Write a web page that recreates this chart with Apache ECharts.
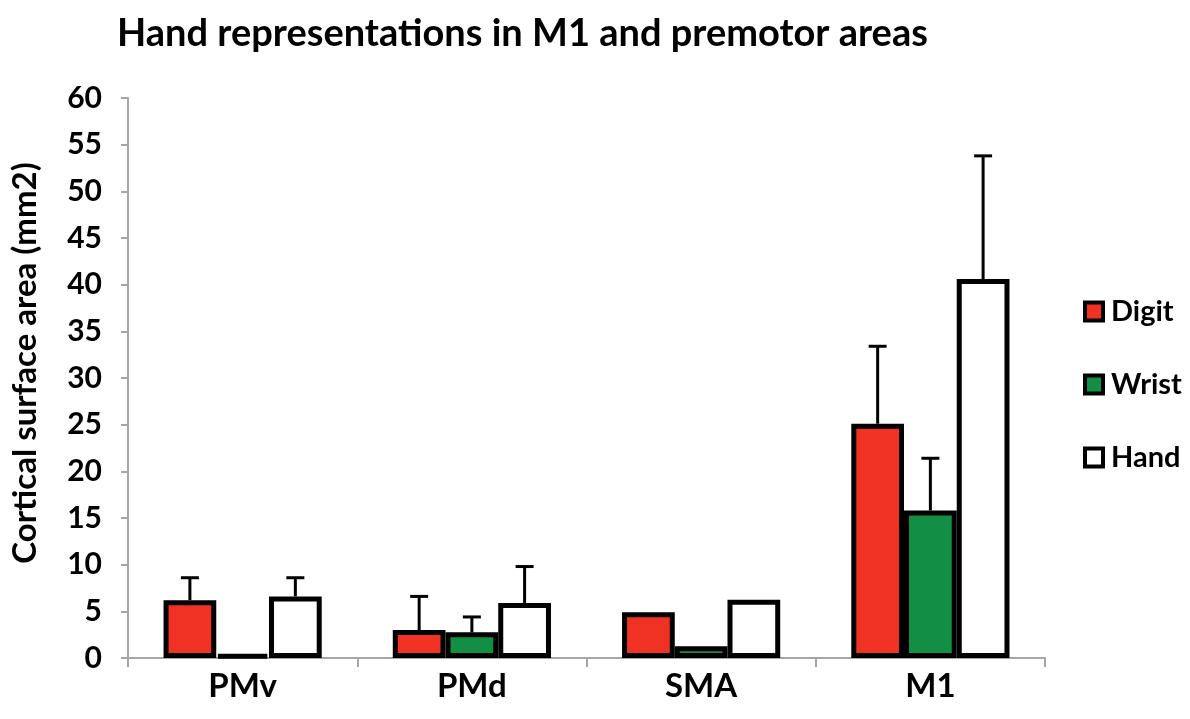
<!DOCTYPE html>
<html>
<head>
<meta charset="utf-8">
<script src="https://cdn.jsdelivr.net/npm/echarts@6/dist/echarts.min.js"></script>
<style>
  html, body { margin: 0; padding: 0; background: #fff; }
  #chart { width: 1190px; height: 719px; }
</style>
</head>
<body>
<div id="chart"></div>
<script>
// data
const categories = ['PMv', 'PMd', 'SMA', 'M1']
const digit = [6.2, 3.0, 4.9, 25.1]
const wrist = [0.35, 2.75, 1.25, 15.8]
const hand = [6.6, 5.9, 6.25, 40.6]
// top of error bar (upper whisker only), null = none
const digitErr = [8.6, 6.6, null, 33.4]
const wristErr = [null, 4.4, null, 21.4]
const handErr = [8.6, 9.8, null, 53.8]
const yTicks = { min: 0, max: 60, interval: 5 }

const font = 'Lato'
const gapPct = 0.31

// whiskers: slot 0/1/2 = position of the bar in the group
function errSeries(name, vals, tops, slot) {
  return {
    type: 'custom',
    name: name + ' err',
    z: 5,
    data: vals.map((v, i) => [i, v, tops[i]]),
    renderItem(params, api) {
      const top = api.value(2)
      if (top === null || top === undefined || isNaN(top)) return null
      const band = api.size([1, 0])[0]
      const w = band * (1 - gapPct) / 3
      const p0 = api.coord([api.value(0), api.value(1)])
      const p1 = api.coord([api.value(0), top])
      const x = p0[0] + (slot - 1) * w
      return {
        type: 'group',
        children: [
          { type: 'line', shape: { x1: x, y1: p0[1], x2: x, y2: p1[1] }, style: { stroke: '#000', lineWidth: 3 } },
          { type: 'line', shape: { x1: x - 9, y1: p1[1], x2: x + 9, y2: p1[1] }, style: { stroke: '#000', lineWidth: 3 } }
        ]
      }
    }
  }
}

const barStyle = (c) => ({ color: c, borderColor: '#000', borderWidth: 5 })

const chart = echarts.init(document.getElementById('chart'))
chart.setOption({
  animation: false,
  title: {
    text: 'Hand representations in M1 and premotor areas',
    left: 112,
    top: 10,
    textStyle: { fontFamily: font, fontSize: 38, fontWeight: 'bold', color: '#000' }
  },
  legend: {
    data: ['Digit', 'Wrist', 'Hand'],
    orient: 'vertical',
    left: 1078,
    top: 292,
    itemWidth: 18,
    itemHeight: 18,
    itemGap: 44,
    icon: 'rect',
    itemStyle: { borderColor: '#000', borderWidth: 4 },
    textStyle: { fontFamily: font, fontSize: 29, fontWeight: 'bold', color: '#000', padding: [0, 0, 0, 3] }
  },
  grid: {
    left: 128,
    right: 145,
    top: 98,
    bottom: 61
  },
  xAxis: {
    type: 'category',
    data: categories,
    axisLine: { lineStyle: { color: '#a6a6a6', width: 2 } },
    axisTick: { show: true, length: 9, alignWithLabel: false, lineStyle: { color: '#a6a6a6', width: 2 } },
    axisLabel: { margin: 12, fontFamily: font, fontSize: 33, fontWeight: 'bold', color: '#000' }
  },
  yAxis: {
    type: 'value',
    min: yTicks.min,
    max: yTicks.max,
    interval: yTicks.interval,
    name: 'Cortical surface area (mm2)',
    nameLocation: 'middle',
    nameGap: 86,
    nameTextStyle: { fontFamily: font, fontSize: 33, fontWeight: 'bold', color: '#000', padding: [0, 0, 0, 30] },
    axisLine: { show: true, lineStyle: { color: '#a6a6a6', width: 2 } },
    axisTick: { show: true, length: 7, lineStyle: { color: '#a6a6a6', width: 2 } },
    axisLabel: { margin: 26, fontFamily: font, fontSize: 30, fontWeight: 'bold', color: '#000' },
    splitLine: { show: false }
  },
  series: [
    { name: 'Digit', type: 'bar', data: digit, barGap: '0%', barCategoryGap: '31%', itemStyle: barStyle('#ef3224') },
    { name: 'Wrist', type: 'bar', data: wrist, barGap: '0%', barCategoryGap: '31%', itemStyle: barStyle('#138f45') },
    { name: 'Hand', type: 'bar', data: hand, barGap: '0%', barCategoryGap: '31%', itemStyle: barStyle('#ffffff') },
    errSeries('Digit', digit, digitErr, 0),
    errSeries('Wrist', wrist, wristErr, 1),
    errSeries('Hand', hand, handErr, 2)
  ]
})
window.onresize = () => {
  chart.resize()
}
</script>
</body>
</html>
